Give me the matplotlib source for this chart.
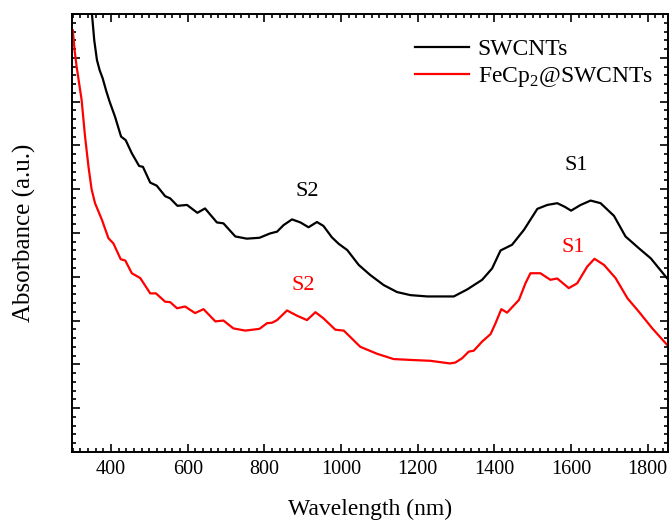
import matplotlib
matplotlib.use('Agg')
import matplotlib.pyplot as plt
from matplotlib.ticker import MultipleLocator

# SWCNTs (чорна крива)
wl_swcnt = [350, 356, 363, 370, 378, 387, 396, 410, 426, 438, 454, 473, 483, 502, 519, 541, 554, 573, 598,
            625, 645, 676, 693, 724, 754, 787, 815, 833, 850, 872, 894, 915, 937, 954, 976, 994, 1016, 1046,
            1076, 1111, 1146, 1181, 1225, 1259, 1294, 1329, 1368, 1394, 1416, 1446, 1477, 1512, 1538, 1564,
            1583, 1600, 1625, 1651, 1677, 1712, 1742, 1777, 1808, 1850]
abs_swcnt = [10.0, 9.4, 8.95, 8.72, 8.53, 8.25, 8.0, 7.66, 7.2, 7.12, 6.82, 6.53, 6.51, 6.15, 6.08, 5.84,
             5.79, 5.62, 5.64, 5.46, 5.56, 5.24, 5.22, 4.92, 4.87, 4.89, 4.99, 5.03, 5.18, 5.31, 5.24, 5.13,
             5.25, 5.16, 4.90, 4.75, 4.61, 4.27, 4.04, 3.81, 3.65, 3.58, 3.55, 3.55, 3.55, 3.71, 3.93, 4.19,
             4.60, 4.73, 5.07, 5.55, 5.64, 5.68, 5.60, 5.51, 5.64, 5.74, 5.68, 5.39, 4.92, 4.65, 4.42, 3.97]

# FeCp2@SWCNTs (червона крива)
wl_fecp = [300, 305, 310, 323, 332, 341, 349, 358, 376, 393, 406, 425, 437, 454, 476, 502, 517, 541, 554,
           572, 593, 619, 641, 672, 693, 719, 750, 787, 807, 820, 833, 859, 885, 911, 933, 954, 985, 1007,
           1050, 1094, 1137, 1181, 1233, 1284, 1298, 1316, 1333, 1346, 1368, 1390, 1403, 1418, 1433, 1464,
           1481, 1494, 1520, 1546, 1564, 1594, 1616, 1642, 1661, 1686, 1716, 1747, 1777, 1812, 1850]
abs_fecp = [9.63, 9.15, 8.80, 8.04, 7.2, 6.51, 6.0, 5.68, 5.30, 4.88, 4.76, 4.40, 4.37, 4.08, 3.97, 3.62,
            3.62, 3.43, 3.42, 3.28, 3.32, 3.17, 3.26, 2.98, 3.00, 2.82, 2.77, 2.81, 2.94, 2.95, 3.01, 3.23,
            3.11, 3.01, 3.19, 3.05, 2.79, 2.77, 2.40, 2.24, 2.12, 2.10, 2.08, 2.02, 2.04, 2.14, 2.29, 2.31,
            2.52, 2.69, 2.94, 3.26, 3.18, 3.47, 3.85, 4.08, 4.08, 3.93, 3.96, 3.74, 3.85, 4.23, 4.41, 4.27,
            3.97, 3.51, 3.20, 2.82, 2.45]

plt.rcParams['font.family'] = ['Liberation Serif', 'DejaVu Serif']

fig = plt.figure(figsize=(6.7, 5.2), dpi=100)
ax = fig.add_axes([0.1075, 0.131, 0.889, 0.842])

ax.plot(wl_swcnt, abs_swcnt, color='black', lw=1.6, label='SWCNTs')
ax.plot(wl_fecp, abs_fecp, color='#ff0000', lw=1.6, label=r'FeCp$_\mathregular{2}$@SWCNTs')

# Підписи піків
ax.text(912, 5.95, 'S2', color='black', fontsize=16, ha='center', va='center')
ax.text(902, 3.81, 'S2', color='#ff0000', fontsize=16, ha='center', va='center')
ax.text(1614, 6.53, 'S1', color='black', fontsize=16, ha='center', va='center')
ax.text(1606, 4.67, 'S1', color='#ff0000', fontsize=16, ha='center', va='center')

ax.set_xlim(298, 1852)
ax.set_ylim(0, 10)
ax.xaxis.set_major_locator(MultipleLocator(200))
ax.xaxis.set_minor_locator(MultipleLocator(20))
ax.yaxis.set_major_locator(MultipleLocator(1))
ax.yaxis.set_minor_locator(MultipleLocator(0.2))
ax.tick_params(which='both', direction='in', top=True, right=True, width=1.2, labelsize=14.5)
ax.tick_params(which='major', length=6, pad=6)
ax.tick_params(which='minor', length=3)
ax.set_yticklabels([])
for s in ax.spines.values():
    s.set_linewidth(1.4)

ax.set_xlabel('Wavelength (nm)', fontsize=17, labelpad=14)
ax.set_ylabel('Absorbance (a.u.)', fontsize=18, labelpad=20)

ax.legend(loc='upper right', bbox_to_anchor=(0.991, 0.966), frameon=False, fontsize=17,
          handlelength=2.3, handletextpad=0.35, labelspacing=0.23, borderaxespad=0)

fig.savefig('out.png', dpi=100)
